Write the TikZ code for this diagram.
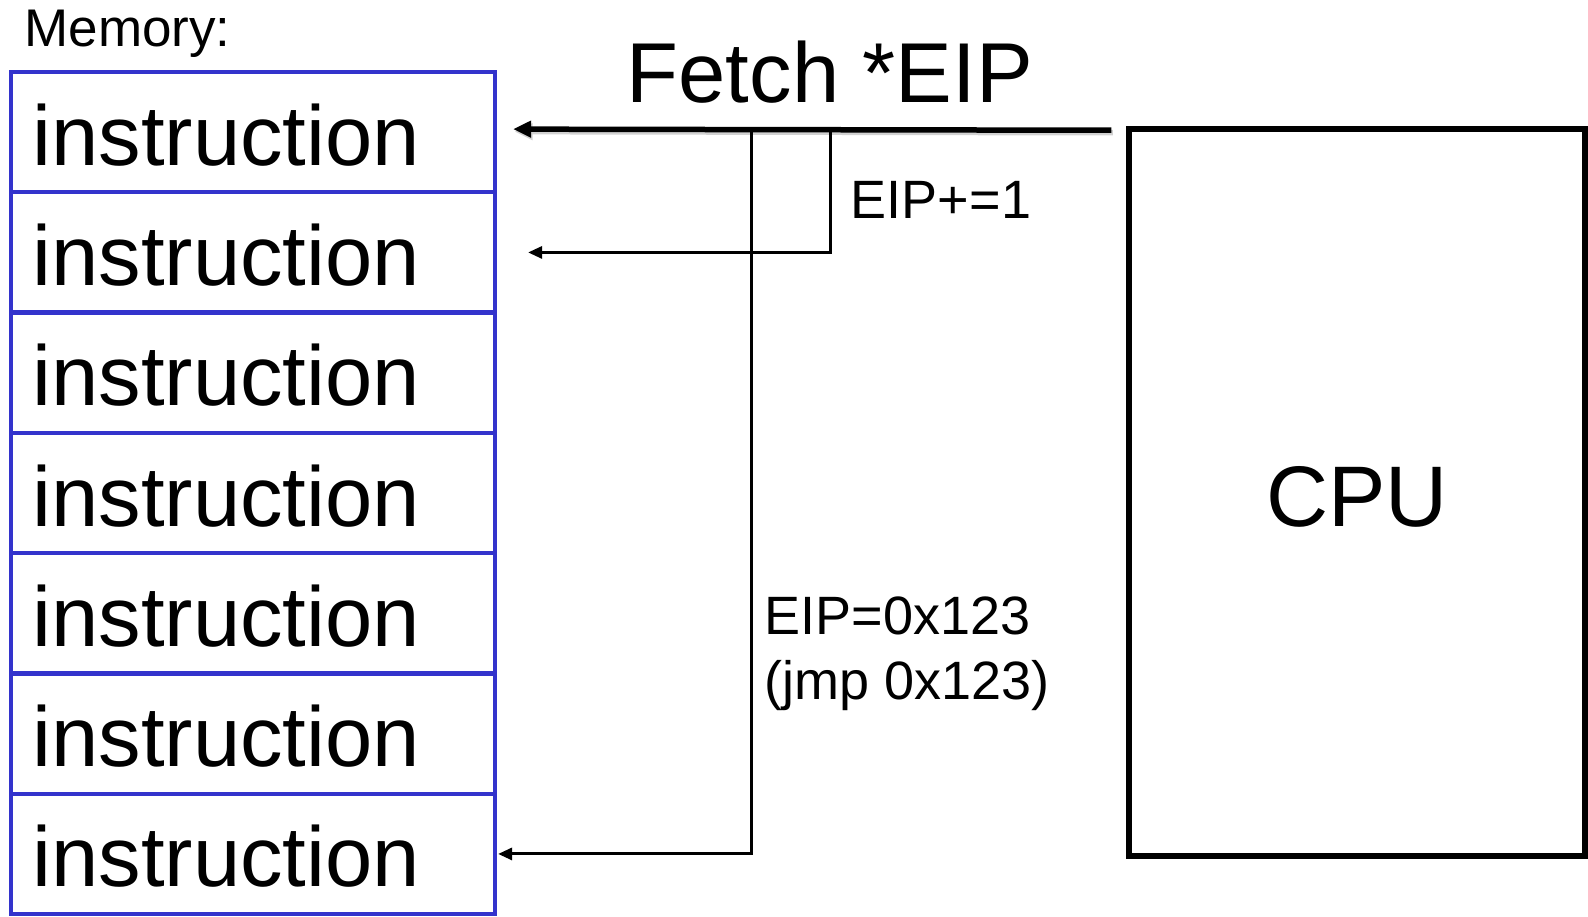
\documentclass[tikz,border=0pt]{standalone}
\usepackage{fontspec}
\setmainfont{Liberation Sans}
\usetikzlibrary{arrows.meta,calc}
\definecolor{memblue}{RGB}{51,51,204}
\tikzset{
  memrow/.style={draw=memblue, line width=4.2pt, rectangle, minimum width=484pt, minimum height=120.3pt,
    text width=440.8pt, align=left, inner xsep=21.6pt, inner ysep=0pt, text height=66pt, text depth=0pt,
    font=\fontsize{85}{100}\selectfont},
  cpubox/.style={draw=black, line width=5.5pt, rectangle, minimum width=456pt, minimum height=727pt,
    inner sep=0pt, text height=68pt, text depth=0pt, font=\fontsize{86}{100}\selectfont},
  lbl/.style={anchor=base west, inner sep=0pt},
  bigarrow/.style={line width=5.5pt, -{Triangle[length=18pt,width=16pt]}},
  arrowshadow/.style={line width=5.5pt, draw=black!18, -{Triangle[length=18pt,width=16pt]}},
  thinarrow/.style={line width=3pt, -{Triangle[length=14pt,width=12pt]}}
}
\begin{document}
\begin{tikzpicture}[x=1pt,y=-1pt]
\useasboundingbox (0,0) rectangle (1588,917);
% memory rows
\foreach \i in {1,...,7}{
  \node[memrow] (m\i) at (253, {72+120.3*(\i-0.5)}) {instruction};
}
\node[lbl, font=\fontsize{53}{60}\selectfont] (memlbl) at (24.3,47) {Memory:};
% CPU
\node[cpubox] (cpu) at (1357,492.5) {CPU};
% labels
\node[lbl, font=\fontsize{85}{100}\selectfont] (fetch) at (626.5,103) {Fetch *EIP};
\node[lbl, font=\fontsize{54}{60}\selectfont] (inc) at (850.7,219) {EIP+=1};
\node[lbl, font=\fontsize{54}{60}\selectfont] (jmp1) at (764.5,634) {EIP=0x123};
\node[lbl, font=\fontsize{54}{60}\selectfont] (jmp2) at (764.5,699) {(jmp 0x123)};
% connectors
\coordinate (fs) at ($(cpu.north west)+(-15,4)$);
\coordinate (ft) at ($(m1.east)+(16,-3)$);
\coordinate (b1) at (830,132);
\coordinate (b2) at (751.5,131.5);
\draw[arrowshadow] ($(fs)+(1.5,2.5)$) -- ($(ft)+(1.5,2.5)$);
\draw[bigarrow] (fs) -- (ft);
\draw[thinarrow] (b1) |- ($(m2.east)+(31,0)$);
\draw[thinarrow] (b2) |- ($(m7.east)+(1,0)$);
\end{tikzpicture}
\end{document}
